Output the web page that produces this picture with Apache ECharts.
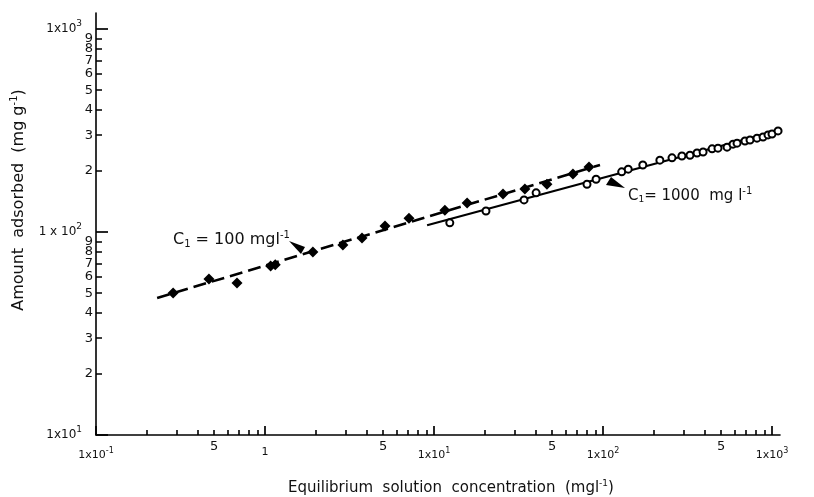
<!DOCTYPE html>
<html>
<head>
<meta charset="utf-8">
<script src="https://cdn.jsdelivr.net/npm/echarts@6/dist/echarts.min.js"></script>
<style>
  html, body { margin: 0; padding: 0; background: #fff; }
  #chart { width: 814px; height: 497px; }
</style>
</head>
<body>
<div id="chart"></div>
<script>
// C1 = 100 mg/l  (filled diamonds)
const diamondX = [0.286, 0.466, 0.683, 1.08, 1.15, 1.92, 2.89, 3.75, 5.13, 7.11, 11.6, 15.7, 25.6, 34.5, 46.6, 66.4, 82.6];
const diamondY = [50.1, 58.7, 56.1, 68.0, 69.0, 79.7, 86.3, 93.4, 107, 117, 128, 139, 154, 163, 172, 193, 209];
// C1 = 1000 mg/l  (open circles)
const circleX = [12.4, 20.3, 34.1, 40.2, 80.4, 91, 129, 141, 172, 217, 256, 293, 327, 360, 391, 442, 479, 542, 588, 621, 692, 741, 815, 885, 947, 1000, 1086];
const circleY = [111, 127, 144, 156, 172, 182, 198, 204, 214, 226, 232, 237, 239, 245, 248, 257, 259, 262, 271, 274, 281, 284, 290, 294, 301, 304, 315];
// fitted lines (end points)
const dashFitX = [0.23, 96];
const dashFitY = [47.3, 214];
const solidFitX = [9.1, 1115];
const solidFitY = [108, 318];

// axes ticks / labels
const xMajorTicks = [0.1, 1, 10, 100, 1000];
const xMajorLabels = ['1x10^-1', '1', '1x10^1', '1x10^2', '1x10^3'];
const xMinorTicks = [0.2, 0.3, 0.4, 0.5, 0.6, 0.7, 0.8, 0.9, 2, 3, 4, 5, 6, 7, 8, 9,
  20, 30, 40, 50, 60, 70, 80, 90, 200, 300, 400, 500, 600, 700, 800, 900];
const xMinorLabels = [0.5, 5, 50, 500];
const yMajorTicks = [10, 100, 1000];
const yMajorLabels = ['1x10^1', '1 x 10^2', '1x10^3'];
const yMinorTicks = [20, 30, 40, 50, 60, 70, 80, 90, 200, 300, 400, 500, 600, 700, 800, 900];
// minor labels split in two sets so the crowded top ones are all drawn
const yEvenLabels = [20, 40, 60, 80, 200, 400, 600, 800];
const yOddLabels = [30, 50, 70, 90, 300, 500, 700, 900];

const FONT = 'DejaVu Sans';
const INK = '#111';

function lookup(v, ticks, labels) {
  for (let i = 0; i < ticks.length; i++) {
    if (Math.abs(Math.log10(v) - Math.log10(ticks[i])) < 0.01) return labels[i];
  }
  return '';
}
function supText(s) {
  const p = s.split('^');
  return p[1] ? '{b|' + p[0] + '}{s|' + p[1] + '}' : '{b|' + p[0] + '}';
}
function leadDigit(v) {
  const d = Math.pow(10, Math.floor(Math.log10(v) + 1e-9));
  return String(Math.round(v / d));
}

const chart = echarts.init(document.getElementById('chart'));

const lineStyleAxis = { color: '#000', width: 1.6 };
const decadeRich = {
  b: { fontSize: 11, color: INK, fontFamily: FONT },
  s: { fontSize: 8, color: INK, fontFamily: FONT, padding: [0, 0, 9, 0] }
};

function minorYAxis(labels) {
  return {
    type: 'log', min: 10, max: 1200, position: 'left', offset: 0,
    axisLine: { show: false },
    axisTick: { show: false },
    axisLabel: {
      customValues: labels, formatter: (v) => leadDigit(v), margin: 3, fontSize: 13, color: INK, fontFamily: FONT,
      showMinLabel: true, showMaxLabel: true
    },
    splitLine: { show: false }
  };
}

let option = {
  backgroundColor: '#fff',
  animation: false,
  grid: { left: 96, right: 34, top: 13, bottom: 62, outerBoundsMode: 'none' },
  xAxis: [
    {
      type: 'log', min: 0.1, max: 1115, position: 'bottom',
      axisLine: { lineStyle: lineStyleAxis },
      axisTick: { inside: true, length: 5, lineStyle: { color: '#000', width: 1.6 }, customValues: xMinorTicks },
      axisLabel: {
        customValues: xMinorLabels, formatter: () => '5', margin: 5, fontSize: 13, color: INK, fontFamily: FONT,
        showMinLabel: true, showMaxLabel: true
      },
      splitLine: { show: false }
    },
    {
      type: 'log', min: 0.1, max: 1115, position: 'bottom', offset: 0,
      axisLine: { show: false },
      axisTick: { inside: true, length: 9, lineStyle: { color: '#000', width: 1.7 }, customValues: xMajorTicks },
      axisLabel: {
        customValues: xMajorTicks, margin: 12, showMinLabel: true, showMaxLabel: true,
        formatter: (v) => supText(lookup(v, xMajorTicks, xMajorLabels)),
        rich: decadeRich
      },
      splitLine: { show: false }
    }
  ],
  yAxis: [
    {
      type: 'log', min: 10, max: 1200, position: 'left',
      axisLine: { lineStyle: lineStyleAxis },
      axisTick: { inside: true, length: 6, lineStyle: { color: '#000', width: 1.5 }, customValues: yMinorTicks },
      axisLabel: { show: false },
      splitLine: { show: false }
    },
    {
      type: 'log', min: 10, max: 1200, position: 'left', offset: 0,
      axisLine: { show: false },
      axisTick: { inside: true, length: 12, lineStyle: { color: '#000', width: 1.7 }, customValues: yMajorTicks },
      axisLabel: {
        customValues: yMajorTicks, margin: 14, showMinLabel: true, showMaxLabel: true,
        formatter: (v) => supText(lookup(v, yMajorTicks, yMajorLabels)),
        rich: { b: { fontSize: 12, color: INK, fontFamily: FONT }, s: { fontSize: 9, color: INK, fontFamily: FONT, padding: [0, 0, 10, 0] } }
      },
      splitLine: { show: false }
    },
    minorYAxis(yEvenLabels),
    minorYAxis(yOddLabels)
  ],
  series: [
    {
      type: 'line', name: 'fit100', xAxisIndex: 0, yAxisIndex: 0,
      data: dashFitX.map((x, i) => [x, dashFitY[i]]),
      symbol: 'none', z: 1,
      lineStyle: { color: '#000', width: 2.6, type: [13, 6] }
    },
    {
      type: 'line', name: 'fit1000', xAxisIndex: 0, yAxisIndex: 0,
      data: solidFitX.map((x, i) => [x, solidFitY[i]]),
      symbol: 'none', z: 1,
      lineStyle: { color: '#000', width: 2.2 }
    },
    {
      type: 'scatter', name: 'C1=100', xAxisIndex: 0, yAxisIndex: 0,
      data: diamondX.map((x, i) => [x, diamondY[i]]),
      symbol: 'diamond', symbolSize: 11, z: 3,
      itemStyle: { color: '#000', opacity: 1 }
    },
    {
      type: 'scatter', name: 'C1=1000', xAxisIndex: 0, yAxisIndex: 0,
      data: circleX.map((x, i) => [x, circleY[i]]),
      symbol: 'circle', symbolSize: 7, z: 4,
      itemStyle: { color: '#fff', borderColor: '#000', borderWidth: 2, opacity: 1 }
    }
  ],
  graphic: [
    // y axis title
    {
      type: 'text', x: 19, y: 200, rotation: Math.PI / 2,
      style: {
        text: '{t|Amount  adsorbed  (mg g}{s|-1}{t|)}',
        rich: { t: { fontSize: 16, fontFamily: FONT, fill: INK }, s: { fontSize: 10, fontFamily: FONT, fill: INK, padding: [0, 0, 10, 0] } },
        align: 'center', verticalAlign: 'middle'
      }
    },
    // x axis title
    {
      type: 'text', x: 451, y: 488,
      style: {
        text: '{t|Equilibrium  solution  concentration  (mgl}{s|-1}{t|)}',
        rich: { t: { fontSize: 15, fontFamily: FONT, fill: INK }, s: { fontSize: 9, fontFamily: FONT, fill: INK, padding: [0, 0, 9, 0] } },
        align: 'center', verticalAlign: 'middle'
      }
    },
    // C1 = 100 annotation
    {
      type: 'text', x: 173, y: 240,
      style: {
        text: '{t|C}{sub|1}{t| = 100 mgl}{sup|-1}',
        rich: {
          t: { fontSize: 16, fontFamily: FONT, fill: INK },
          sub: { fontSize: 10, fontFamily: FONT, fill: INK, padding: [8, 0, 0, 0] },
          sup: { fontSize: 10, fontFamily: FONT, fill: INK, padding: [0, 0, 10, 0] }
        },
        align: 'left', verticalAlign: 'middle'
      }
    },
    {
      type: 'polygon', shape: { points: [[289, 241], [305, 247], [301, 254]] },
      style: { fill: '#000' }
    },
    // C1 = 1000 annotation
    {
      type: 'text', x: 628, y: 196,
      style: {
        text: '{t|C}{sub|1}{t|= 1000  mg l}{sup|-1}',
        rich: {
          t: { fontSize: 15, fontFamily: FONT, fill: INK },
          sub: { fontSize: 9, fontFamily: FONT, fill: INK, padding: [8, 0, 0, 0] },
          sup: { fontSize: 10, fontFamily: FONT, fill: INK, padding: [0, 0, 10, 0] }
        },
        align: 'left', verticalAlign: 'middle'
      }
    },
    {
      type: 'polygon', shape: { points: [[625, 188], [611, 177], [606, 185]] },
      style: { fill: '#000' }
    }
  ]
};

chart.setOption(option);
</script>
</body>
</html>
